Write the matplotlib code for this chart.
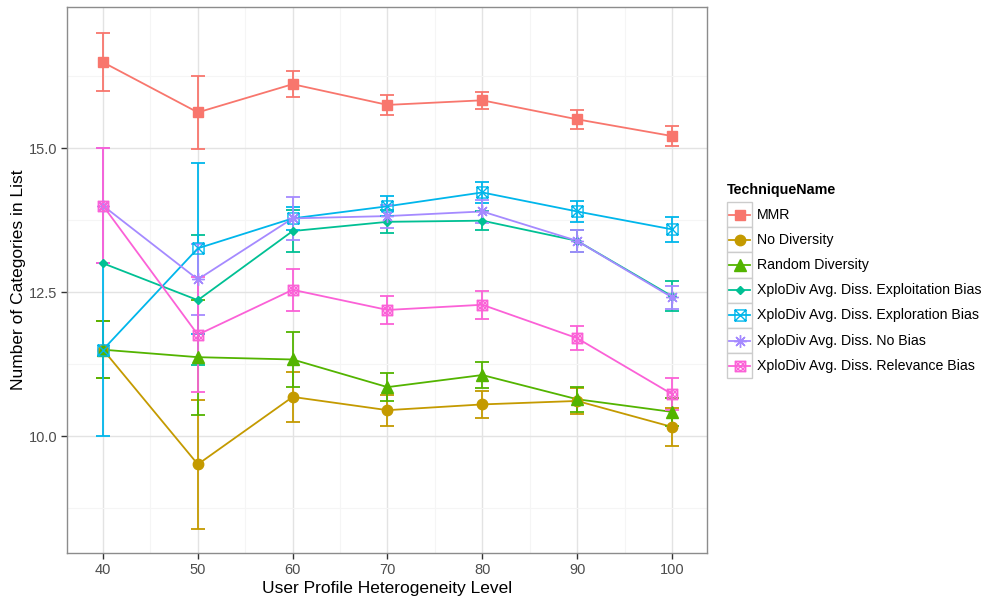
import numpy as np
import matplotlib
matplotlib.use("Agg")
import matplotlib.pyplot as plt
from matplotlib.path import Path
from matplotlib.patches import Rectangle
from matplotlib.lines import Line2D

plt.rcParams['font.family'] = ['Liberation Sans', 'DejaVu Sans']

# heterogeneity levels on the x axis
levels = [40, 50, 60, 70, 80, 90, 100]

# mean number of categories per technique, with error half-widths
mmr = [16.49, 15.62, 16.11, 15.75, 15.83, 15.50, 15.21]
mmr_err = [0.50, 0.63, 0.23, 0.17, 0.15, 0.16, 0.17]
no_div = [11.50, 9.51, 10.68, 10.45, 10.55, 10.61, 10.16]
no_div_err = [0.50, 1.12, 0.44, 0.27, 0.24, 0.23, 0.33]
random_div = [11.50, 11.37, 11.33, 10.85, 11.06, 10.64, 10.42]
random_div_err = [0.50, 1.00, 0.47, 0.24, 0.22, 0.22, 0.24]
exploit = [13.00, 12.36, 13.56, 13.72, 13.74, 13.39, 12.43]
exploit_err = [0.00, 1.13, 0.36, 0.20, 0.16, 0.19, 0.26]
explore = [11.50, 13.26, 13.78, 13.99, 14.23, 13.90, 13.59]
explore_err = [1.50, 1.48, 0.20, 0.17, 0.18, 0.19, 0.22]
no_bias = [14.00, 12.72, 13.78, 13.82, 13.90, 13.39, 12.41]
no_bias_err = [1.00, 0.62, 0.37, 0.20, 0.20, 0.19, 0.20]
relevance = [14.00, 11.76, 12.54, 12.19, 12.28, 11.70, 10.73]
relevance_err = [1.00, 1.00, 0.36, 0.25, 0.24, 0.21, 0.28]

names = ["MMR", "No Diversity", "Random Diversity",
         "XploDiv Avg. Diss. Exploitation Bias",
         "XploDiv Avg. Diss. Exploration Bias",
         "XploDiv Avg. Diss. No Bias",
         "XploDiv Avg. Diss. Relevance Bias"]
means = [mmr, no_div, random_div, exploit, explore, no_bias, relevance]
errs = [mmr_err, no_div_err, random_div_err, exploit_err, explore_err,
        no_bias_err, relevance_err]
colors = ["#F8766D", "#C49A00", "#53B400", "#00C094", "#00B6EB", "#A58AFF", "#FB61D7"]

# open markers: square with a cross, and square with cross and circle
sq = Path([(-1, -1), (1, -1), (1, 1), (-1, 1), (-1, -1)],
          [Path.MOVETO, Path.LINETO, Path.LINETO, Path.LINETO, Path.CLOSEPOLY])
xx = Path([(-1, -1), (1, 1), (-1, 1), (1, -1)],
          [Path.MOVETO, Path.LINETO, Path.MOVETO, Path.LINETO])
circ = Path(Path.unit_circle().vertices * 0.75, Path.unit_circle().codes)
sq_cross = Path.make_compound_path(sq, xx)
sq_circ = Path.make_compound_path(sq, xx, circ)

markers = ['s', 'o', '^', 'D', sq_cross, (8, 2, 0), sq_circ]
msizes = [7.5, 7.5, 8, 4.5, 8, 9, 7.5]
filled = [True, True, True, True, False, False, False]

fig = plt.figure(figsize=(9.88, 6.01), dpi=100)
ax = fig.add_axes([67 / 988, 1 - 553 / 601, 640 / 988, 546 / 601])

for m, e, c in zip(means, errs, colors):
    ax.plot(levels, m, color=c, lw=1.3, zorder=3)
for m, e, c in zip(means, errs, colors):
    ax.errorbar(levels, m, yerr=e, fmt='none', ecolor=c, elinewidth=1.3,
                capsize=4.8, capthick=1.3, zorder=4)
for m, c, mk, ms, f in zip(means, colors, markers, msizes, filled):
    ax.plot(levels, m, ls='none', marker=mk, ms=ms, color=c,
            mfc=c if f else 'none', mec=c, mew=1.0, zorder=5)

ax.set_xlim(36.2, 103.7)
ax.set_ylim(7.97, 17.45)
ax.set_xticks(levels)
ax.set_xticks([45, 55, 65, 75, 85, 95], minor=True)
ax.set_yticks([10.0, 12.5, 15.0])
ax.set_yticklabels(["10.0", "12.5", "15.0"])
ax.set_yticks([8.75, 11.25, 13.75, 16.25], minor=True)
ax.grid(True, which='major', color='#E3E3E3', lw=1.0, zorder=0)
ax.grid(True, which='minor', color='#F5F5F5', lw=0.8, zorder=0)
ax.set_axisbelow(True)
ax.tick_params(which='major', length=4, width=1, color='#333333',
               labelsize=10.5, labelcolor='#4D4D4D', pad=3)
ax.tick_params(which='minor', length=0)
for s in ax.spines.values():
    s.set_color('#8C8C8C')
    s.set_linewidth(1.0)
ax.set_xlabel("User Profile Heterogeneity Level", fontsize=12.5, labelpad=3)
ax.set_ylabel("Number of Categories in List", fontsize=12.5, labelpad=2)

# legend drawn in pixel coordinates on an overlay axes
lg = fig.add_axes([0, 0, 1, 1])
lg.set_xlim(0, 988)
lg.set_ylim(601, 0)
lg.axis('off')
lg.text(727, 190, "TechniqueName", fontsize=10.3, fontweight='bold', va='center', ha='left')
row_h = 25.2
y0 = 202
for i, (nm, c, mk, ms, f) in enumerate(zip(names, colors, markers, msizes, filled)):
    top = y0 + i * row_h
    lg.add_patch(Rectangle((727, top), 25, row_h, fc='white', ec='#CCCCCC', lw=1.0))
    cy = top + row_h / 2
    lg.add_line(Line2D([729, 750], [cy, cy], color=c, lw=1.3))
    lg.add_line(Line2D([739.5], [cy], ls='none', marker=mk, ms=ms, color=c,
                       mfc=c if f else 'none', mec=c, mew=1.0))
    lg.text(757, cy, nm, fontsize=10.2, va='center', ha='left', color='black')

fig.savefig("out.png", dpi=100)
